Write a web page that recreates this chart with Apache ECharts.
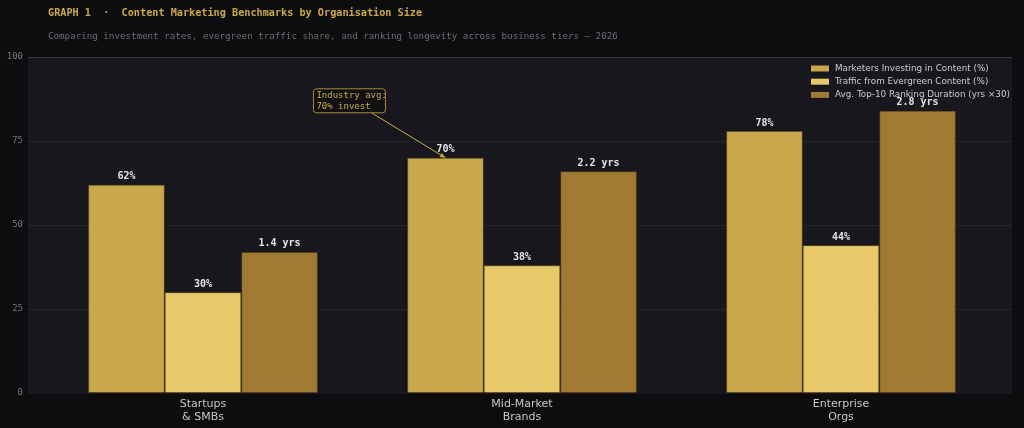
<!DOCTYPE html>
<html>
<head>
<meta charset="utf-8">
<title>Content Marketing Benchmarks by Organisation Size</title>
<script src="https://cdn.jsdelivr.net/npm/echarts@6/dist/echarts.min.js"></script>
<style>
  html, body {
    margin: 0;
    padding: 0;
    background: #0d0d0f;
  }
  #chart {
    width: 1024px;
    height: 428px;
  }
</style>
</head>
<body>
<div id="chart"></div>
<script>
// chart data
const categories = ["Startups\n& SMBs", "Mid-Market\nBrands", "Enterprise\nOrgs"];
const seriesNames = [
  "Marketers Investing in Content (%)",
  "Traffic from Evergreen Content (%)",
  "Avg. Top-10 Ranking Duration (yrs ×30)",
];
const investingPct = [62, 70, 78];
const evergreenPct = [30, 38, 44];
const rankingYears = [1.4, 2.2, 2.8];
const yearScale = 30;
const yTicks = [0, 25, 50, 75, 100];

const colors = ["#c9a84c", "#e8c96a", "#a07a32"];
const mono = "'DejaVu Sans Mono', monospace";
const sans = "'DejaVu Sans', sans-serif";

const chart = echarts.init(document.getElementById("chart"));

// label settings shared by the bars
const barLabel = (formatter) => ({
  show: true,
  position: "top",
  distance: 3,
  color: "#e6e6e6",
  fontFamily: mono,
  fontWeight: "bold",
  fontSize: 10,
  formatter: formatter,
});

const barSeries = (name, data, color, formatter) => ({
  name: name,
  type: "bar",
  xAxisIndex: 1,
  yAxisIndex: 1,
  data: data,
  barGap: "0%",
  barCategoryGap: "28%",
  itemStyle: {
    color: color,
    borderColor: "rgba(70, 55, 20, 0.45)",
    borderWidth: 1,
  },
  label: barLabel(formatter),
});

chart.setOption({
  backgroundColor: "#0d0d0f",
  animation: false,
  title: [
    {
      text: "GRAPH 1  ·  Content Marketing Benchmarks by Organisation Size",
      left: 48,
      top: 8,
      padding: 0,
      textStyle: {
        color: "#c9a84c",
        fontFamily: mono,
        fontWeight: "bold",
        fontSize: 10.2,
      },
    },
    {
      text: "Comparing investment rates, evergreen traffic share, and ranking longevity across business tiers — 2026",
      left: 48,
      top: 32,
      padding: 0,
      textStyle: {
        color: "#6c6c72",
        fontFamily: mono,
        fontWeight: "normal",
        fontSize: 9.2,
      },
    },
  ],
  legend: {
    orient: "vertical",
    left: 811,
    top: 64,
    padding: 0,
    itemWidth: 18,
    itemHeight: 6,
    itemGap: 4.2,
    icon: "rect",
    data: seriesNames,
    itemStyle: { borderWidth: 0 },
    textStyle: {
      color: "#cccccc",
      fontFamily: sans,
      fontSize: 8.8,
      padding: [0, 0, 0, 1],
    },
  },
  grid: [
    // background panel with the value gridlines
    {
      left: 28,
      right: 12,
      top: 57,
      bottom: 35,
      show: true,
      backgroundColor: "#17171d",
      borderWidth: 0,
    },
    // bars
    {
      left: 43.5,
      right: 23.5,
      top: 57,
      bottom: 35,
    },
  ],
  xAxis: [
    {
      gridIndex: 0,
      type: "value",
      show: false,
    },
    {
      gridIndex: 1,
      type: "category",
      data: categories,
      axisLine: { show: false },
      axisTick: { show: false },
      axisLabel: {
        color: "#c8c8c8",
        fontFamily: sans,
        fontSize: 11,
        lineHeight: 13.5,
        margin: 4,
      },
    },
  ],
  yAxis: [
    {
      gridIndex: 0,
      type: "value",
      min: yTicks[0],
      max: yTicks[yTicks.length - 1],
      interval: yTicks[1] - yTicks[0],
      axisLine: { show: false },
      axisTick: { show: false },
      axisLabel: {
        color: "#74747a",
        fontFamily: mono,
        fontSize: 9,
        margin: 5,
      },
      splitLine: {
        lineStyle: {
          color: ["#17171d", "#24242a", "#24242a", "#24242a", "#34343a"],
          width: 1,
        },
      },
    },
    {
      gridIndex: 1,
      type: "value",
      min: yTicks[0],
      max: yTicks[yTicks.length - 1],
      show: false,
    },
  ],
  series: [
    barSeries(seriesNames[0], investingPct, colors[0], (p) => p.value + "%"),
    barSeries(seriesNames[1], evergreenPct, colors[1], (p) => p.value + "%"),
    barSeries(
      seriesNames[2],
      rankingYears.map((v) => +(v * yearScale).toFixed(1)),
      colors[2],
      (p) => (p.value / yearScale).toFixed(1) + " yrs"
    ),
  ],
});

// annotation pointing at the mid-market investment bar
const drawAnnotation = () => {
  const center = chart.convertToPixel({ xAxisIndex: 1, yAxisIndex: 1 }, [1, investingPct[1]]);
  const gridWidth = 1024 - 43.5 - 23.5;
  const barWidth = (gridWidth / categories.length) * 0.72 / 3;
  const tx = center[0] - barWidth;
  const ty = center[1];
  const bx = tx - 132;
  const by = ty - 69;
  const sx = bx + 58;
  const sy = by + 24;
  const ang = Math.atan2(ty - sy, tx - sx);
  const head = 6;
  chart.setOption({
    graphic: [
      {
        type: "line",
        shape: { x1: sx, y1: sy, x2: tx, y2: ty },
        style: { stroke: "#c9a84c", lineWidth: 1 },
        z: 100,
      },
      {
        type: "polygon",
        shape: {
          points: [
            [tx, ty],
            [tx - head * Math.cos(ang - 0.4), ty - head * Math.sin(ang - 0.4)],
            [tx - head * Math.cos(ang + 0.4), ty - head * Math.sin(ang + 0.4)],
          ],
        },
        style: { fill: "#c9a84c" },
        z: 100,
      },
      {
        type: "rect",
        shape: { x: bx, y: by, width: 72, height: 24, r: 3 },
        style: { fill: "#111114", stroke: "#a88a3c", lineWidth: 1 },
        z: 101,
      },
      {
        type: "text",
        x: bx + 3,
        y: by + 2,
        style: {
          text: "Industry avg:\n70% invest",
          fill: "#c9a84c",
          font: "9px " + mono,
          lineHeight: 10.5,
        },
        z: 102,
      },
    ],
  });
};
drawAnnotation();
</script>
</body>
</html>
